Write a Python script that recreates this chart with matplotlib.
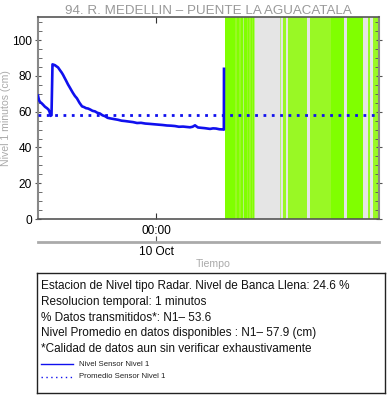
import datetime as dt
import matplotlib
matplotlib.use("Agg")
import matplotlib.pyplot as plt
import matplotlib.dates as mdates
from matplotlib.ticker import MultipleLocator

plt.rcParams['font.family'] = ['Liberation Sans', 'DejaVu Sans']

# series, hours since start of window
start = dt.datetime(2023, 10, 9, 15, 40)
t_hours = [0.00, 0.07, 0.14, 0.25, 0.35, 0.49, 0.63, 0.74, 0.81, 0.88, 0.95,
           1.02, 1.10, 1.20, 1.30, 1.41, 1.55, 1.66, 1.76, 1.87, 1.97, 2.11,
           2.25, 2.35, 2.46, 2.60, 2.74, 2.92, 3.10, 3.24, 3.38, 3.52, 3.66,
           3.84, 4.01, 4.18, 4.36, 4.54, 4.72, 4.90, 5.07, 5.35, 5.63, 5.88,
           6.12, 6.40, 6.69, 6.97, 7.25, 7.55, 7.88, 8.16, 8.45, 8.75, 9.08,
           9.36, 9.64, 9.92, 10.21, 10.45, 10.70, 10.88, 11.05, 11.15, 11.26,
           11.50, 11.75, 11.93, 12.11, 12.32, 12.53, 12.77, 13.02, 13.08, 13.09]
nivel = [69.0, 66.5, 65.5, 64.8, 64.0, 62.8, 62.0, 61.2, 60.0, 57.7, 58.0,
         86.5, 86.3, 86.0, 85.4, 84.8, 83.2, 82.0, 80.7, 79.0, 77.5, 75.3,
         73.4, 72.0, 70.5, 68.8, 67.5, 65.0, 63.0, 62.6, 62.0, 61.8, 61.3,
         60.5, 60.2, 59.4, 59.0, 58.0, 57.5, 56.6, 56.3, 55.9, 55.5, 55.0,
         54.8, 54.5, 54.2, 53.7, 53.8, 53.4, 53.2, 53.0, 52.8, 52.6, 52.3,
         52.2, 52.0, 51.6, 51.7, 51.5, 51.3, 51.6, 52.4, 51.8, 51.2,
         51.0, 50.8, 50.6, 50.4, 50.7, 50.6, 50.2, 50.1, 50.0, 84.0]
promedio = 57.9
banca_llena = 24.6
pct_transmitidos = 53.6

# transmission-state bands (hours since start), kind: 0 bright, 1 light, 2 pale
sin_datos = (13.16, 24.0)
band_start = [13.16, 13.86, 14.15, 14.41, 14.69, 14.87, 15.04, 15.20,
              17.03, 17.24, 17.60, 19.14, 20.60, 21.77, 23.25, 23.60]
band_end = [15.29, 13.98, 14.27, 14.50, 14.80, 14.97, 15.15, 15.29,
            17.10, 17.48, 18.93, 21.54, 21.54, 22.85, 23.37, 24.00]
band_kind = [0, 1, 1, 2, 1, 1, 1, 2,
             2, 1, 1, 1, 0, 0, 1, 1]
kind_color = {0: '#80ff00', 1: '#99f825', 2: '#b5f07a'}

def to_time(h):
    return start + dt.timedelta(hours=h)

times = [to_time(h) for h in t_hours]
t0, t1 = to_time(0), to_time(24)

fig = plt.figure(figsize=(3.88, 4.04), dpi=100)
W, H = 388.0, 404.0
ax = fig.add_axes([38 / W, (H - 219) / H, 341 / W, 202 / H])

ax.axvspan(to_time(sin_datos[0]), to_time(sin_datos[1]), color='#e5e5e5', lw=0, zorder=0)
for s, e, k in zip(band_start, band_end, band_kind):
    ax.axvspan(to_time(s), to_time(e), color=kind_color[k], lw=0, zorder=1)

ax.plot(times, nivel, color='#1010ee', lw=1.9, zorder=3)
ax.axhline(promedio, color='#1010ee', lw=2, ls=(0, (1, 2)), zorder=3)

ax.set_xlim(t0, t1)
ax.set_ylim(0, 113)
ax.yaxis.set_major_locator(MultipleLocator(20))
ax.yaxis.set_minor_locator(MultipleLocator(5))
midnight = dt.datetime(2023, 10, 10, 0, 0)
ax.set_xticks([midnight])
ax.xaxis.set_major_formatter(mdates.DateFormatter('%H:%M'))
ax.tick_params(axis='x', direction='in', length=4, top=True, labelsize=8.6, pad=4, color='#333333')
ax.tick_params(axis='y', which='major', direction='inout', length=5, labelsize=8.6, pad=2)
ax.tick_params(axis='y', which='minor', direction='in', length=3)
ax.tick_params(axis='y', which='both', right=True, labelright=False, color='#555555')

for side in ['left', 'right']:
    ax.spines[side].set_color('#888888')
    ax.spines[side].set_linewidth(1.5)
for side in ['top', 'bottom']:
    ax.spines[side].set_color('#555555')
    ax.spines[side].set_linewidth(1.2)

ax.set_title('94. R. MEDELLIN – PUENTE LA AGUACATALA', color='#999999', fontsize=9.6, pad=2)
fig.text(6 / W, 1 - 118 / H, 'Nivel 1 minutos (cm)', color='#aaaaaa', fontsize=7.6,
         rotation=90, ha='center', va='center')

# date axis below
ax2 = fig.add_axes([38 / W, (H - 241.7) / H, 341 / W, 0.0001])
ax2.set_xlim(t0, t1)
ax2.set_yticks([])
for side in ['left', 'right', 'top']:
    ax2.spines[side].set_visible(False)
ax2.spines['bottom'].set_color('#aaaaaa')
ax2.spines['bottom'].set_linewidth(2)
ax2.set_xticks([midnight])
ax2.xaxis.set_major_formatter(mdates.DateFormatter('%d %b'))
ax2.tick_params(axis='x', direction='in', length=4, labelsize=8.6, pad=3, color='#555555')
fig.text(213 / W, 1 - 264 / H, 'Tiempo', color='#aaaaaa', fontsize=7.6, ha='center', va='center')

# info box
bx = fig.add_axes([36.7 / W, (H - 393) / H, 348.3 / W, 120.3 / H])
bx.set_xlim(36.7, 385)
bx.set_ylim(393, 272.7)
bx.set_xticks([])
bx.set_yticks([])
for sp in bx.spines.values():
    sp.set_color('#222222')
    sp.set_linewidth(1)

lines = [
    'Estacion de Nivel tipo Radar. Nivel de Banca Llena: %.1f %%' % banca_llena,
    'Resolucion temporal: 1 minutos',
    '%% Datos transmitidos*: N1– %.1f' % pct_transmitidos,
    'Nivel Promedio en datos disponibles : N1– %.1f (cm)' % promedio,
    '*Calidad de datos aun sin verificar exhaustivamente',
]
for i, txt in enumerate(lines):
    bx.text(41, 286 + i * 15.8, txt, fontsize=8.5, va='center', ha='left', color='#111111')

bx.plot([41, 73], [364, 364], color='#1010ee', lw=1)
bx.text(79, 364, 'Nivel Sensor Nivel 1', fontsize=5.6, va='center', color='#222222')
bx.plot([41, 73], [377, 377], color='#1010ee', lw=1, ls=(0, (1, 2.5)))
bx.text(79, 377, 'Promedio Sensor Nivel 1', fontsize=5.6, va='center', color='#222222')

fig.savefig('out.png', dpi=100)
